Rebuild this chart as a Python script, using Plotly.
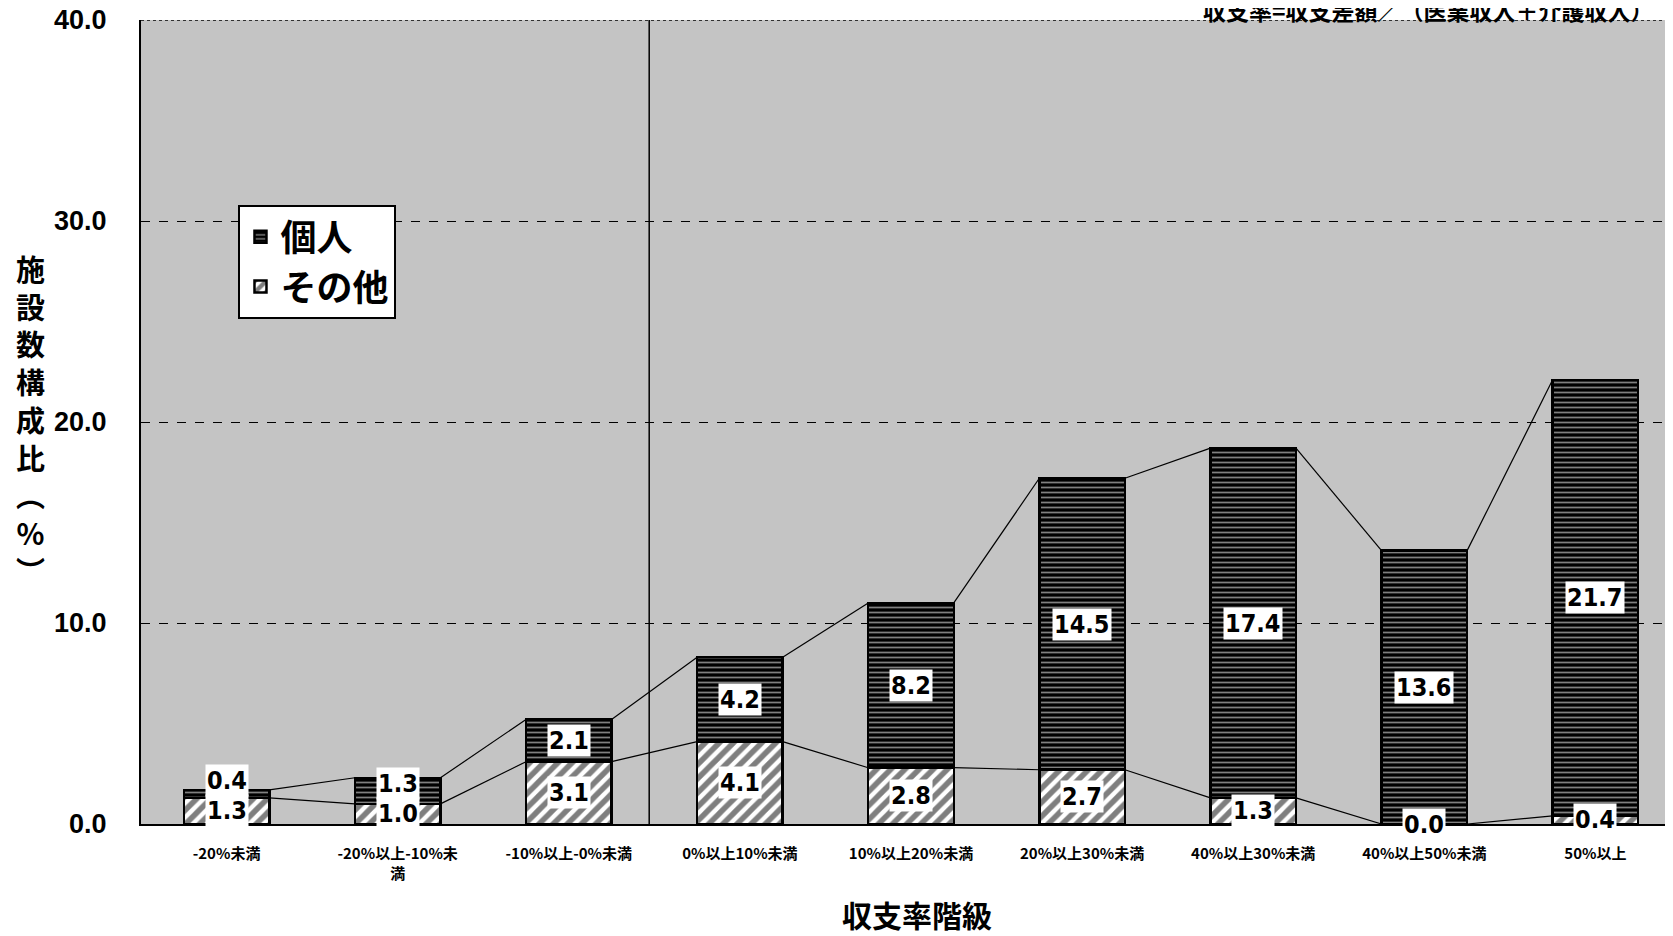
import plotly.graph_objects as go

categories = ["-20%未満", "-20%以上-10%未<br>満", "-10%以上-0%未満", "0%以上10%未満",
              "10%以上20%未満", "20%以上30%未満", "40%以上30%未満", "40%以上50%未満", "50%以上"]
kojin = [0.4, 1.3, 2.1, 4.2, 8.2, 14.5, 17.4, 13.6, 21.7]
sonota = [1.3, 1.0, 3.1, 4.1, 2.8, 2.7, 1.3, 0.0, 0.4]
y_ticks = [0, 10, 20, 30, 40]
y_tick_labels = ["0.0", "10.0", "20.0", "30.0", "40.0"]

x = list(range(len(categories)))
totals = [a + b for a, b in zip(kojin, sonota)]

NUM_FONT = "Liberation Sans Narrow, DejaVu Sans Condensed, Arial Narrow, sans-serif"
JP_FONT = "Noto Sans CJK JP, sans-serif"

fig = go.Figure()
fig.add_trace(go.Bar(
    x=x, y=sonota, name="その他",
    marker=dict(color="white", line=dict(color="black", width=2.5),
                pattern=dict(shape="/", fgcolor="black", bgcolor="white", size=10, solidity=0.55)),
    width=0.5,
))
fig.add_trace(go.Bar(
    x=x, y=kojin, name="個人",
    marker=dict(color="black", line=dict(color="black", width=2.5),
                pattern=dict(shape="-", fgcolor="white", bgcolor="black", size=5, solidity=0.35)),
    width=0.5,
))

# series lines connecting stack tops
def series_line(vals):
    xs, ys = [], []
    for i in range(len(vals) - 1):
        xs += [x[i] + 0.25, x[i + 1] - 0.25, None]
        ys += [vals[i], vals[i + 1], None]
    return xs, ys

for vals in (sonota, totals):
    xs, ys = series_line(vals)
    fig.add_trace(go.Scatter(x=xs, y=ys, mode="lines", line=dict(color="black", width=1.2),
                             showlegend=False, hoverinfo="skip"))

# data labels
for i in x:
    yb = sonota[i] / 2
    yt = max(sonota[i] + kojin[i] / 2, yb + 1.5)
    for val, yy in ((sonota[i], yb), (kojin[i], yt)):
        fig.add_annotation(x=i, y=yy, text=f"{val:.1f}", showarrow=False,
                           bgcolor="white", borderpad=1,
                           font=dict(family=NUM_FONT, size=25, color="black", weight="bold"))

# vertical divider
fig.add_shape(type="line", xref="x", yref="y", x0=2.47, x1=2.47, y0=-0.3, y1=40.5,
              line=dict(color="black", width=1.5))
# dotted top border
fig.add_shape(type="line", xref="paper", yref="y", x0=0, x1=1, y0=40, y1=40,
              line=dict(color="black", width=1.5, dash="dot"))

# axis titles
fig.add_annotation(xref="paper", yref="paper", x=-0.0718, y=0.504,
                   text="施<br>設<br>数<br>構<br>成<br>比<br>︵<br>%<br>︶",
                   showarrow=False, xanchor="center", yanchor="middle",
                   font=dict(family=JP_FONT, size=29, color="black", weight="bold"))
fig.add_annotation(xref="paper", yref="paper", x=0.504, y=-0.112, text="収支率階級",
                   showarrow=False, xanchor="center", yanchor="middle",
                   font=dict(family=JP_FONT, size=30, color="black", weight="bold"))
fig.add_annotation(xref="paper", yref="paper", x=0.984, y=1.013,
                   text="収支率=収支差額／（医業収入＋介護収入）",
                   showarrow=False, xanchor="right", yanchor="middle",
                   font=dict(family=JP_FONT, size=23, color="black", weight="bold"))

fig.update_layout(
    width=1673, height=936,
    margin=dict(l=133, r=0, t=12, b=120),
    paper_bgcolor="white", plot_bgcolor="#c4c4c4",
    barmode="stack", bargap=0.5,
    showlegend=True,
    legend=dict(x=0.0633, y=0.770, xanchor="left", yanchor="top",
                bgcolor="white", bordercolor="black", borderwidth=2,
                traceorder="reversed", itemwidth=30, tracegroupgap=0,
                font=dict(family=JP_FONT, size=36, color="black", weight="bold")),
    xaxis=dict(range=[-0.5, 8.5], tickmode="array", tickvals=x, ticktext=categories,
               automargin=False, ticklabelstandoff=15,
               showgrid=False, zeroline=False, showline=True, linecolor="black", linewidth=2,
               ticks="", tickfont=dict(family=JP_FONT, size=15, color="black", weight="bold")),
    yaxis=dict(range=[0, 40], tickmode="array", tickvals=y_ticks, ticktext=y_tick_labels,
               automargin=False, ticklabelstandoff=27, ticklabeloverflow="allow",
               showgrid=True, gridcolor="black", gridwidth=1, griddash="dash",
               zeroline=False, showline=True, linecolor="black", linewidth=2,
               ticks="", ticklen=0,
               tickfont=dict(family="Liberation Sans, Arial, sans-serif", size=27, color="black", weight="bold")),
)

fig.write_html("out.html")
